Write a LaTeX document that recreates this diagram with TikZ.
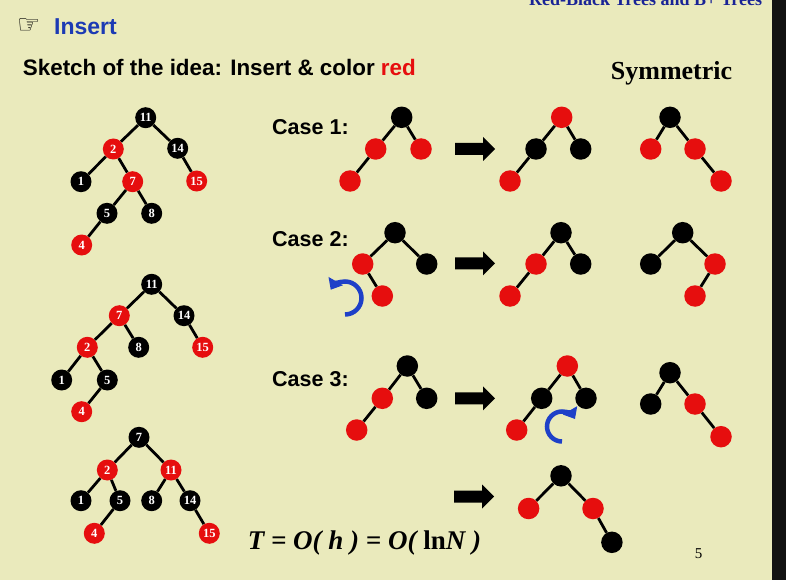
\documentclass[tikz,border=0pt]{standalone}
\usepackage{fontspec}
\setmainfont{Liberation Serif}
\newfontfamily\arialfont{Liberation Sans}
\newfontfamily\symbfont{DejaVu Sans}
\usetikzlibrary{arrows.meta}
\definecolor{slidebg}{RGB}{234,234,188}
\definecolor{nodered}{RGB}{230,14,14}
\definecolor{titleblue}{RGB}{28,58,180}
\definecolor{headblue}{RGB}{25,35,150}
\definecolor{rotblue}{RGB}{30,64,200}
\newdimen\unitsize
\setlength{\unitsize}{1pt}
\newcommand{\blockarrow}[2]{\fill (#1,#2) ++(0,-6) -- ++(28,0) -- ++(0,-6) -- ++(12,12) -- ++(-12,12) -- ++(0,-6) -- ++(-28,0) -- cycle;}

\begin{document}
\begin{tikzpicture}[x=\unitsize,y=-\unitsize,baseline=0]
\tikzset{edge/.style={line width=2.8pt}}%
\tikzset{dot/.style={circle,inner sep=0pt,minimum size=21pt}}%
\tikzset{bn/.style={dot,fill=black,text=white,font=\fontsize{12.5}{12.5}\selectfont\bfseries}}%
\tikzset{rn/.style={bn,fill=nodered}}%
\tikzset{bd/.style={dot,fill=black,minimum size=21.5pt}}%
\tikzset{rd/.style={bd,fill=nodered}}%
\tikzset{caselabel/.style={anchor=west,inner sep=0pt,font=\arialfont\fontsize{21.5}{21.5}\selectfont\bfseries}}%
\tikzset{rot/.style={rotblue,line width=4.5pt,-{Triangle[length=10pt,width=16pt]}}}%
\clip (0,0) rectangle (786,580);
\fill[slidebg] (0,0) rectangle (786,580);
\fill[black!93] (772,0) rectangle (786,580);
% headings
\node[anchor=base west,inner sep=0pt,headblue,font=\bfseries\fontsize{18}{18}\selectfont] (header) at (529,6) {Red-Black Trees and B+ Trees};
\node[anchor=west,inner sep=0pt,font=\symbfont\bfseries\fontsize{26}{26}\selectfont] (hand) at (17,26) {☞};
\node[anchor=base west,inner sep=0pt,titleblue,font=\arialfont\bfseries\fontsize{23}{23}\selectfont] (insert) at (54,34.3) {Insert};
\node[anchor=base west,inner sep=0pt,font=\arialfont\bfseries\fontsize{22.4}{22.4}\selectfont] (sketch) at (22.7,76) {Sketch of the idea: Insert \& color \textcolor{nodered}{red}};
\node[anchor=base west,inner sep=0pt,font=\bfseries\fontsize{26}{26}\selectfont] (symm) at (610.7,80) {Symmetric};
% first tree
\node[bn] (a11) at (145.7,117.7) {11};
\node[rn] (a2) at (113.3,149) {2};
\node[bn] (a14) at (177.7,148.3) {14};
\node[bn] (a1) at (81,181.7) {1};
\node[rn] (a7) at (132.7,181.7) {7};
\node[rn] (a15) at (196.7,181) {15};
\node[bn] (a5) at (107,213.3) {5};
\node[bn] (a8) at (151.7,213.3) {8};
\node[rn] (a4) at (81.7,245) {4};
\draw[edge] (a11) -- (a2);
\draw[edge] (a11) -- (a14);
\draw[edge] (a2) -- (a1);
\draw[edge] (a2) -- (a7);
\draw[edge] (a14) -- (a15);
\draw[edge] (a7) -- (a5);
\draw[edge] (a7) -- (a8);
\draw[edge] (a5) -- (a4);
% second tree
\node[bn] (b11) at (151.7,284.3) {11};
\node[rn] (b7) at (119.3,315.7) {7};
\node[bn] (b14) at (184,315.7) {14};
\node[rn] (b2) at (87.3,347.3) {2};
\node[bn] (b8) at (138.7,347.3) {8};
\node[rn] (b15) at (202.7,347.3) {15};
\node[bn] (b1) at (61.7,380) {1};
\node[bn] (b5) at (107.3,380) {5};
\node[rn] (b4) at (81.7,411.7) {4};
\draw[edge] (b11) -- (b7);
\draw[edge] (b11) -- (b14);
\draw[edge] (b7) -- (b2);
\draw[edge] (b7) -- (b8);
\draw[edge] (b14) -- (b15);
\draw[edge] (b2) -- (b1);
\draw[edge] (b2) -- (b5);
\draw[edge] (b5) -- (b4);
% third tree
\node[bn] (c7) at (139,437.3) {7};
\node[rn] (c2) at (107.3,470) {2};
\node[rn] (c11) at (171,470) {11};
\node[bn] (c1) at (81,500.7) {1};
\node[bn] (c5) at (120,500.7) {5};
\node[bn] (c8) at (151.7,500.7) {8};
\node[bn] (c14) at (190,500.7) {14};
\node[rn] (c4) at (94.3,533.3) {4};
\node[rn] (c15) at (209.3,533.3) {15};
\draw[edge] (c7) -- (c2);
\draw[edge] (c7) -- (c11);
\draw[edge] (c2) -- (c1);
\draw[edge] (c2) -- (c5);
\draw[edge] (c11) -- (c8);
\draw[edge] (c11) -- (c14);
\draw[edge] (c5) -- (c4);
\draw[edge] (c14) -- (c15);
% case 1
\node[caselabel] (case1) at (272,126.7) {Case 1:};
\node[bd] (p1top) at (401.7,117.3) {};
\node[rd] (p1left) at (375.7,149) {};
\node[rd] (p1right) at (421,149) {};
\node[rd] (p1low) at (350,181) {};
\draw[edge] (p1top) -- (p1left);
\draw[edge] (p1top) -- (p1right);
\draw[edge] (p1left) -- (p1low);
\blockarrow{455}{149}
\node[rd] (q1top) at (561.7,117.3) {};
\node[bd] (q1left) at (536,149) {};
\node[bd] (q1right) at (580.7,149) {};
\node[rd] (q1low) at (510,181) {};
\draw[edge] (q1top) -- (q1left);
\draw[edge] (q1top) -- (q1right);
\draw[edge] (q1left) -- (q1low);
\node[bd] (s1top) at (670,117.3) {};
\node[rd] (s1left) at (650.7,149) {};
\node[rd] (s1right) at (695,149) {};
\node[rd] (s1low) at (721,181) {};
\draw[edge] (s1top) -- (s1left);
\draw[edge] (s1top) -- (s1right);
\draw[edge] (s1right) -- (s1low);
% case 2
\node[caselabel] (case2) at (272,239.3) {Case 2:};
\node[bd] (p2top) at (395,232.7) {};
\node[rd] (p2left) at (362.7,264) {};
\node[bd] (p2right) at (426.7,264) {};
\node[rd] (p2low) at (382.3,296) {};
\draw[edge] (p2top) -- (p2left);
\draw[edge] (p2top) -- (p2right);
\draw[edge] (p2left) -- (p2low);
\draw[rot] (345,314.5) arc[start angle=90,end angle=-150,radius=16.5];
\blockarrow{455}{263.3}
\node[bd] (q2top) at (561,232.7) {};
\node[rd] (q2left) at (536,264) {};
\node[bd] (q2right) at (580.7,264) {};
\node[rd] (q2low) at (510,296) {};
\draw[edge] (q2top) -- (q2left);
\draw[edge] (q2top) -- (q2right);
\draw[edge] (q2left) -- (q2low);
\node[bd] (s2top) at (682.7,232.7) {};
\node[bd] (s2left) at (650.7,264) {};
\node[rd] (s2right) at (715,264) {};
\node[rd] (s2low) at (695,296) {};
\draw[edge] (s2top) -- (s2left);
\draw[edge] (s2top) -- (s2right);
\draw[edge] (s2right) -- (s2low);
% case 3
\node[caselabel] (case3) at (272,379.3) {Case 3:};
\node[bd] (p3top) at (407.3,366) {};
\node[rd] (p3left) at (382.3,398.3) {};
\node[bd] (p3right) at (426.7,398.3) {};
\node[rd] (p3low) at (356.7,430) {};
\draw[edge] (p3top) -- (p3left);
\draw[edge] (p3top) -- (p3right);
\draw[edge] (p3left) -- (p3low);
\blockarrow{455}{398.3}
\node[rd] (q3top) at (567.3,366) {};
\node[bd] (q3left) at (541.7,398.3) {};
\node[bd] (q3right) at (586,398.3) {};
\node[rd] (q3low) at (516.7,430) {};
\draw[edge] (q3top) -- (q3left);
\draw[edge] (q3top) -- (q3right);
\draw[edge] (q3left) -- (q3low);
\draw[rot] (562,441.5) arc[start angle=90,end angle=330,radius=15];
\node[bd] (s3top) at (670,372.7) {};
\node[bd] (s3left) at (650.7,404) {};
\node[rd] (s3right) at (695,404) {};
\node[rd] (s3low) at (721,436.7) {};
\draw[edge] (s3top) -- (s3left);
\draw[edge] (s3top) -- (s3right);
\draw[edge] (s3right) -- (s3low);
% result
\blockarrow{454.2}{496.5}
\node[bd] (rtop) at (561,475.8) {};
\node[rd] (rleft) at (528.6,508.5) {};
\node[rd] (rright) at (593,508.5) {};
\node[bd] (rlow) at (611.9,542.3) {};
\draw[edge] (rtop) -- (rleft);
\draw[edge] (rtop) -- (rright);
\draw[edge] (rright) -- (rlow);
\node[anchor=base west,inner sep=0pt,font=\bfseries\itshape\fontsize{27}{27}\selectfont] (cost) at (247.6,549) {T = O( h ) = O( {\upshape ln}N )};
\node[anchor=base,inner sep=0pt,font=\fontsize{15}{15}\selectfont] (pagenum) at (698.7,558) {5};
\end{tikzpicture}
\end{document}
